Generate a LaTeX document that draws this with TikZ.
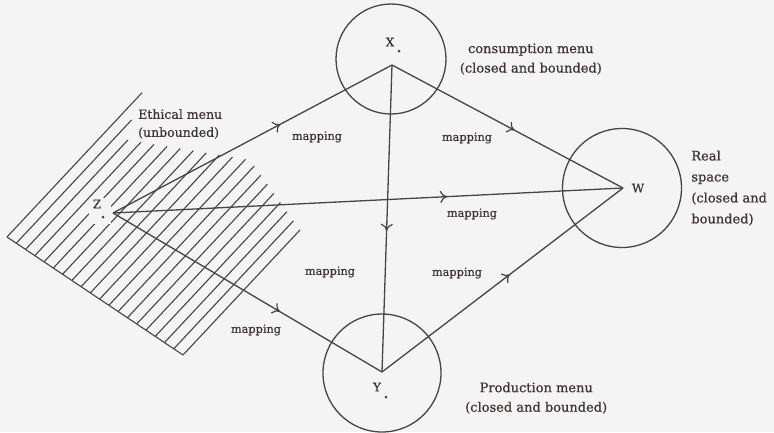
\documentclass[tikz,border=0pt]{standalone}
\usepackage{fontspec}
\setmainfont{DejaVu Serif}[FakeBold=0.6]
\usepackage{tikz}
\usetikzlibrary{arrows.meta,positioning,calc,decorations.markings}
\definecolor{inkgray}{HTML}{454545}
\definecolor{textbrown}{HTML}{3E3232}
\definecolor{paper}{HTML}{F4F4F4}
\tikzset{
  menu/.style={circle, draw=inkgray, line width=1.3pt, inner sep=0pt},
  maplabel/.style={font=\fontsize{11.3}{13}\selectfont, text=textbrown, inner sep=1pt},
  menulabel/.style={font=\fontsize{13}{19.5}\selectfont, text=textbrown, align=center, inner sep=0pt},
  pointlabel/.style={font=\fontsize{12}{14}\selectfont, text=textbrown, inner sep=1pt},
  mapline/.style={draw=inkgray, line width=1.3pt},
  midarrow/.style={mapline, postaction={decorate}, decoration={markings, mark=at position #1 with {\arrow{To[length=7pt,width=12pt,line width=1.2pt]}}}},
  hatch/.style={draw=inkgray, line width=1.1pt}
}

\begin{document}
\begin{tikzpicture}[x=1pt, y=-1pt, node distance=10pt]
  \fill[paper] (0,0) rectangle (774,432);
  \useasboundingbox (0,0) rectangle (774,432);
  % hatched ethical menu
  \coordinate (hA) at (7,237);
  \coordinate (hC) at (183,355);
  \draw[hatch] (hA) -- (hC);
  \foreach \len [count=\i from 0] in {197.7,168.8,149.9,155.4,161.0,166.6,172.2,177.8,183.3,188.9,194.5,200.0,199.3,195.3,191.4,187.3,183.3,179.3,175.3,171.3}
    \draw[hatch] ($(hA)!{\i/19}!(hC)$) -- ++(\len*0.683,-\len*0.730);
  \node[fill=paper, minimum width=22pt, minimum height=26pt] (zgap) at (100,211) {};

  % menus
  \node[menu, minimum size=110pt] (circX) at (391,59) {};
  \node[menu, minimum size=118pt] (circY) at (382,373) {};
  \node[menu, minimum size=119pt] (circW) at (622,188) {};

  \coordinate (ptX) at (392,65);
  \coordinate (ptY) at (382,372);
  \coordinate (ptZ) at (113,213);
  \coordinate (ptW) at (623,188);

  % mappings
  \draw[midarrow=0.6] (ptZ) -- (ptX);
  \draw[midarrow=0.655] (ptZ) -- (ptW);
  \draw[midarrow=0.62] (ptZ) -- (ptY);
  \draw[midarrow=0.54] (ptX) -- (ptY);
  \draw[midarrow=0.53] (ptX) -- (ptW);
  \draw[midarrow=0.53] (ptY) -- (ptW);

  \node[maplabel] (mapZX) at (317,137) {mapping};
  \node[maplabel] (mapXW) at (467,138) {mapping};
  \node[maplabel] (mapZW) at (472,214) {mapping};
  \node[maplabel] (mapXY) at (330,272) {mapping};
  \node[maplabel] (mapYW) at (457,273) {mapping};
  \node[maplabel] (mapZY) at (256,330) {mapping};

  % points
  \node[pointlabel] (labX) at (390,42) {X};
  \node[pointlabel] (labY) at (377,387) {Y};
  \node[pointlabel] (labZ) at (97,204) {Z};
  \node[pointlabel] (labW) at (638,188) {W};
  \fill[inkgray] (399,51) circle (1.5pt);
  \fill[inkgray] (386,397) circle (1.5pt);
  \fill[inkgray] (103,217) circle (1.5pt);

  % menu labels
  \node[menulabel, right=13pt of circX] (consLab) {consumption menu\\(closed and bounded)};
  \node[menulabel, anchor=west] (prodLab) at (465,398) {Production menu\\(closed and bounded)};
  \node[menulabel, align=left, font=\fontsize{13}{21}\selectfont, right=9pt of circW] (realLab) {Real\\space\\(closed and\\bounded)};
  \node[menulabel, align=left, font=\fontsize{12.5}{18}\selectfont, anchor=west] (ethLab) at (138,124) {Ethical menu\\(unbounded)};
\end{tikzpicture}
\end{document}
